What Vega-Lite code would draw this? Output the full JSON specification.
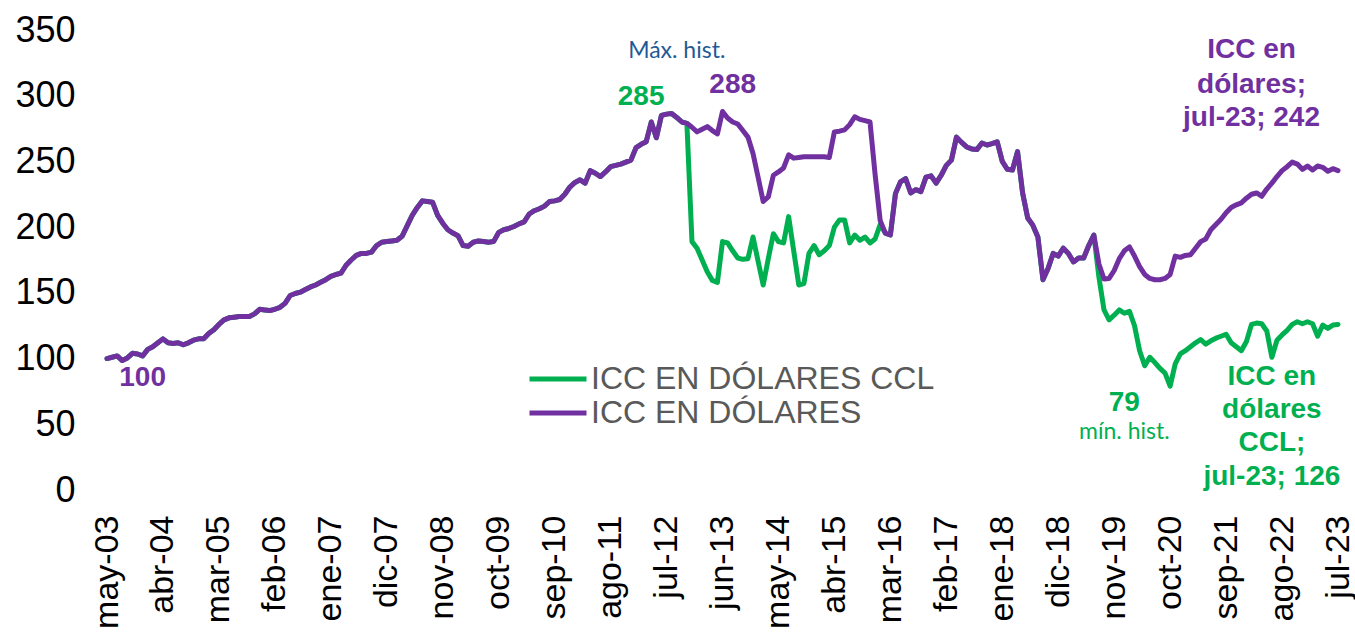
{
"$schema":"https://vega.github.io/schema/vega-lite/v6.json",
"width":1231,"height":460,
"autosize":{"type":"none"},
"padding":{"left":107,"top":30,"right":17,"bottom":143},
"background":"white",
"config":{"view":{"stroke":null},"font":"Liberation Sans"},
"datasets":{"icc":[
{"f":"2003-05","icc":100,"ccl":100},{"f":"2003-06","icc":101,"ccl":101},{"f":"2003-07","icc":102,"ccl":102},{"f":"2003-08","icc":98.5,"ccl":98.5},{"f":"2003-09","icc":100.5,"ccl":100.5},{"f":"2003-10","icc":104,"ccl":104},{"f":"2003-11","icc":103.5,"ccl":103.5},{"f":"2003-12","icc":102,"ccl":102},
{"f":"2004-01","icc":107,"ccl":107},{"f":"2004-02","icc":109,"ccl":109},{"f":"2004-03","icc":112,"ccl":112},{"f":"2004-04","icc":115,"ccl":115},{"f":"2004-05","icc":112,"ccl":112},{"f":"2004-06","icc":111.5,"ccl":111.5},{"f":"2004-07","icc":112,"ccl":112},{"f":"2004-08","icc":110.5,"ccl":110.5},{"f":"2004-09","icc":112,"ccl":112},{"f":"2004-10","icc":114,"ccl":114},{"f":"2004-11","icc":115,"ccl":115},{"f":"2004-12","icc":115,"ccl":115},
{"f":"2005-01","icc":119,"ccl":119},{"f":"2005-02","icc":122,"ccl":122},{"f":"2005-03","icc":126,"ccl":126},{"f":"2005-04","icc":129.5,"ccl":129.5},{"f":"2005-05","icc":131,"ccl":131},{"f":"2005-06","icc":131.5,"ccl":131.5},{"f":"2005-07","icc":132,"ccl":132},{"f":"2005-08","icc":132,"ccl":132},{"f":"2005-09","icc":132,"ccl":132},{"f":"2005-10","icc":134,"ccl":134},{"f":"2005-11","icc":137.5,"ccl":137.5},{"f":"2005-12","icc":137,"ccl":137},
{"f":"2006-01","icc":136.5,"ccl":136.5},{"f":"2006-02","icc":137.5,"ccl":137.5},{"f":"2006-03","icc":139,"ccl":139},{"f":"2006-04","icc":142,"ccl":142},{"f":"2006-05","icc":148,"ccl":148},{"f":"2006-06","icc":149.5,"ccl":149.5},{"f":"2006-07","icc":150.5,"ccl":150.5},{"f":"2006-08","icc":152.5,"ccl":152.5},{"f":"2006-09","icc":154.5,"ccl":154.5},{"f":"2006-10","icc":156,"ccl":156},{"f":"2006-11","icc":158,"ccl":158},{"f":"2006-12","icc":160,"ccl":160},
{"f":"2007-01","icc":162.5,"ccl":162.5},{"f":"2007-02","icc":164,"ccl":164},{"f":"2007-03","icc":165,"ccl":165},{"f":"2007-04","icc":171,"ccl":171},{"f":"2007-05","icc":175,"ccl":175},{"f":"2007-06","icc":178.5,"ccl":178.5},{"f":"2007-07","icc":180,"ccl":180},{"f":"2007-08","icc":180,"ccl":180},{"f":"2007-09","icc":181,"ccl":181},{"f":"2007-10","icc":186,"ccl":186},{"f":"2007-11","icc":188.5,"ccl":188.5},{"f":"2007-12","icc":189,"ccl":189},
{"f":"2008-01","icc":189.5,"ccl":189.5},{"f":"2008-02","icc":190,"ccl":190},{"f":"2008-03","icc":193,"ccl":193},{"f":"2008-04","icc":201,"ccl":201},{"f":"2008-05","icc":209,"ccl":209},{"f":"2008-06","icc":215,"ccl":215},{"f":"2008-07","icc":220,"ccl":220},{"f":"2008-08","icc":219.5,"ccl":219.5},{"f":"2008-09","icc":219,"ccl":219},{"f":"2008-10","icc":209,"ccl":209},{"f":"2008-11","icc":203,"ccl":203},{"f":"2008-12","icc":198,"ccl":198},
{"f":"2009-01","icc":195.5,"ccl":195.5},{"f":"2009-02","icc":193.5,"ccl":193.5},{"f":"2009-03","icc":186,"ccl":186},{"f":"2009-04","icc":185.5,"ccl":185.5},{"f":"2009-05","icc":188.5,"ccl":188.5},{"f":"2009-06","icc":189.5,"ccl":189.5},{"f":"2009-07","icc":189,"ccl":189},{"f":"2009-08","icc":188.5,"ccl":188.5},{"f":"2009-09","icc":189,"ccl":189},{"f":"2009-10","icc":196,"ccl":196},{"f":"2009-11","icc":198,"ccl":198},{"f":"2009-12","icc":199,"ccl":199},
{"f":"2010-01","icc":200.5,"ccl":200.5},{"f":"2010-02","icc":202.5,"ccl":202.5},{"f":"2010-03","icc":204,"ccl":204},{"f":"2010-04","icc":210,"ccl":210},{"f":"2010-05","icc":212.5,"ccl":212.5},{"f":"2010-06","icc":214,"ccl":214},{"f":"2010-07","icc":216,"ccl":216},{"f":"2010-08","icc":219.5,"ccl":219.5},{"f":"2010-09","icc":220,"ccl":220},{"f":"2010-10","icc":221,"ccl":221},{"f":"2010-11","icc":225,"ccl":225},{"f":"2010-12","icc":230.5,"ccl":230.5},
{"f":"2011-01","icc":234,"ccl":234},{"f":"2011-02","icc":236,"ccl":236},{"f":"2011-03","icc":233.5,"ccl":233.5},{"f":"2011-04","icc":243,"ccl":243},{"f":"2011-05","icc":241,"ccl":241},{"f":"2011-06","icc":238.5,"ccl":238.5},{"f":"2011-07","icc":242,"ccl":242},{"f":"2011-08","icc":246,"ccl":246},{"f":"2011-09","icc":247,"ccl":247},{"f":"2011-10","icc":248,"ccl":248},{"f":"2011-11","icc":249.5,"ccl":249.5},{"f":"2011-12","icc":251,"ccl":251},
{"f":"2012-01","icc":260.5,"ccl":260.5},{"f":"2012-02","icc":263,"ccl":263},{"f":"2012-03","icc":265,"ccl":265},{"f":"2012-04","icc":280,"ccl":280},{"f":"2012-05","icc":268,"ccl":268},{"f":"2012-06","icc":285,"ccl":285},{"f":"2012-07","icc":286,"ccl":286},{"f":"2012-08","icc":286.5,"ccl":286.5},{"f":"2012-09","icc":283.5,"ccl":283.5},{"f":"2012-10","icc":280,"ccl":280},{"f":"2012-11","icc":279,"ccl":279},{"f":"2012-12","icc":276,"ccl":189},
{"f":"2013-01","icc":272.5,"ccl":184},{"f":"2013-02","icc":274.5,"ccl":175},{"f":"2013-03","icc":276.5,"ccl":166},{"f":"2013-04","icc":273.5,"ccl":159.5},{"f":"2013-05","icc":271,"ccl":158},{"f":"2013-06","icc":288,"ccl":189},{"f":"2013-07","icc":283,"ccl":188},{"f":"2013-08","icc":280,"ccl":182},{"f":"2013-09","icc":278.5,"ccl":176.5},{"f":"2013-10","icc":273.5,"ccl":175.5},{"f":"2013-11","icc":268.5,"ccl":176},{"f":"2013-12","icc":256,"ccl":192.5},
{"f":"2014-01","icc":238,"ccl":174},{"f":"2014-02","icc":219.5,"ccl":156},{"f":"2014-03","icc":223,"ccl":176},{"f":"2014-04","icc":239.5,"ccl":195},{"f":"2014-05","icc":242,"ccl":189},{"f":"2014-06","icc":245,"ccl":188},{"f":"2014-07","icc":255,"ccl":208},{"f":"2014-08","icc":252.5,"ccl":182},{"f":"2014-09","icc":253,"ccl":156},{"f":"2014-10","icc":253.5,"ccl":157},{"f":"2014-11","icc":253.5,"ccl":180},{"f":"2014-12","icc":253.5,"ccl":186},
{"f":"2015-01","icc":253.5,"ccl":179},{"f":"2015-02","icc":253.5,"ccl":182},{"f":"2015-03","icc":253,"ccl":186},{"f":"2015-04","icc":272.5,"ccl":200},{"f":"2015-05","icc":273,"ccl":205.5},{"f":"2015-06","icc":274,"ccl":205.5},{"f":"2015-07","icc":278,"ccl":188},{"f":"2015-08","icc":284,"ccl":194},{"f":"2015-09","icc":282,"ccl":190},{"f":"2015-10","icc":281,"ccl":192.5},{"f":"2015-11","icc":280,"ccl":188},{"f":"2015-12","icc":240,"ccl":191},
{"f":"2016-01","icc":205,"ccl":202},{"f":"2016-02","icc":195.5,"ccl":195.5},{"f":"2016-03","icc":194,"ccl":194},{"f":"2016-04","icc":225.5,"ccl":225.5},{"f":"2016-05","icc":234.5,"ccl":234.5},{"f":"2016-06","icc":237,"ccl":237},{"f":"2016-07","icc":226,"ccl":226},{"f":"2016-08","icc":228.5,"ccl":228.5},{"f":"2016-09","icc":227,"ccl":227},{"f":"2016-10","icc":238,"ccl":238},{"f":"2016-11","icc":239,"ccl":239},{"f":"2016-12","icc":233.5,"ccl":233.5},
{"f":"2017-01","icc":239.5,"ccl":239.5},{"f":"2017-02","icc":247,"ccl":247},{"f":"2017-03","icc":251,"ccl":251},{"f":"2017-04","icc":268.5,"ccl":268.5},{"f":"2017-05","icc":264.5,"ccl":264.5},{"f":"2017-06","icc":261,"ccl":261},{"f":"2017-07","icc":259.5,"ccl":259.5},{"f":"2017-08","icc":259,"ccl":259},{"f":"2017-09","icc":264,"ccl":264},{"f":"2017-10","icc":262.5,"ccl":262.5},{"f":"2017-11","icc":263.5,"ccl":263.5},{"f":"2017-12","icc":265,"ccl":265},
{"f":"2018-01","icc":250,"ccl":250},{"f":"2018-02","icc":244,"ccl":244},{"f":"2018-03","icc":243.5,"ccl":243.5},{"f":"2018-04","icc":257.5,"ccl":257.5},{"f":"2018-05","icc":226,"ccl":226},{"f":"2018-06","icc":207,"ccl":207},{"f":"2018-07","icc":201.5,"ccl":201.5},{"f":"2018-08","icc":192.5,"ccl":192.5},{"f":"2018-09","icc":160,"ccl":160},{"f":"2018-10","icc":168.5,"ccl":168.5},{"f":"2018-11","icc":180,"ccl":180},{"f":"2018-12","icc":178,"ccl":178},
{"f":"2019-01","icc":184,"ccl":184},{"f":"2019-02","icc":180,"ccl":180},{"f":"2019-03","icc":173.5,"ccl":173.5},{"f":"2019-04","icc":176.5,"ccl":176.5},{"f":"2019-05","icc":176.5,"ccl":176.5},{"f":"2019-06","icc":186,"ccl":186},{"f":"2019-07","icc":194,"ccl":194},{"f":"2019-08","icc":172,"ccl":162},{"f":"2019-09","icc":160.5,"ccl":137},{"f":"2019-10","icc":161,"ccl":129.5},{"f":"2019-11","icc":167,"ccl":133},{"f":"2019-12","icc":176,"ccl":137},
{"f":"2020-01","icc":182,"ccl":134.5},{"f":"2020-02","icc":185,"ccl":136},{"f":"2020-03","icc":178,"ccl":125},{"f":"2020-04","icc":170,"ccl":106},{"f":"2020-05","icc":164,"ccl":94.5},{"f":"2020-06","icc":161,"ccl":101},{"f":"2020-07","icc":160,"ccl":97},{"f":"2020-08","icc":160,"ccl":92.5},{"f":"2020-09","icc":161,"ccl":89},{"f":"2020-10","icc":164,"ccl":79},{"f":"2020-11","icc":178,"ccl":96},{"f":"2020-12","icc":177,"ccl":103.5},
{"f":"2021-01","icc":178.5,"ccl":106},{"f":"2021-02","icc":179,"ccl":109},{"f":"2021-03","icc":184,"ccl":112},{"f":"2021-04","icc":189,"ccl":114.5},{"f":"2021-05","icc":191,"ccl":111},{"f":"2021-06","icc":198,"ccl":113.5},{"f":"2021-07","icc":202,"ccl":115.5},{"f":"2021-08","icc":206,"ccl":117},{"f":"2021-09","icc":211,"ccl":118.5},{"f":"2021-10","icc":215,"ccl":112},{"f":"2021-11","icc":217,"ccl":109},{"f":"2021-12","icc":218.5,"ccl":106},
{"f":"2022-01","icc":222,"ccl":113},{"f":"2022-02","icc":225,"ccl":126},{"f":"2022-03","icc":226,"ccl":127},{"f":"2022-04","icc":223.5,"ccl":126.5},{"f":"2022-05","icc":229,"ccl":121},{"f":"2022-06","icc":233.5,"ccl":101},{"f":"2022-07","icc":238.5,"ccl":114},{"f":"2022-08","icc":243,"ccl":118},{"f":"2022-09","icc":246,"ccl":121.5},{"f":"2022-10","icc":249.5,"ccl":126},{"f":"2022-11","icc":248,"ccl":128},{"f":"2022-12","icc":244,"ccl":126.5},
{"f":"2023-01","icc":246.5,"ccl":128},{"f":"2023-02","icc":243.5,"ccl":126.5},{"f":"2023-03","icc":246.5,"ccl":117},{"f":"2023-04","icc":245.5,"ccl":125.5},{"f":"2023-05","icc":242.5,"ccl":123},{"f":"2023-06","icc":244.5,"ccl":125.5},{"f":"2023-07","icc":243,"ccl":126}
]},
"encoding":{
"x":{"field":"f","type":"ordinal","scale":{"type":"point","padding":0},
"axis":{"title":null,"domain":false,"ticks":false,"labelAngle":270,"labelAlign":"right","labelBaseline":"middle","labelFontSize":34,"labelColor":"#000000","labelPadding":25,"labelOverlap":false,"labelFont":"Liberation Sans",
"values":["2003-05","2004-04","2005-03","2006-02","2007-01","2007-12","2008-11","2009-10","2010-09","2011-08","2012-07","2013-06","2014-05","2015-04","2016-03","2017-02","2018-01","2018-12","2019-11","2020-10","2021-09","2022-08","2023-07"],
"labelExpr":"['ene','feb','mar','abr','may','jun','jul','ago','sep','oct','nov','dic'][toNumber(substring(datum.value,5,7))-1] + '-' + substring(datum.value,2,4)"}}
},
"layer":[
{"data":{"name":"icc"},"mark":{"type":"line","strokeWidth":5,"strokeJoin":"round","strokeCap":"round"},
"encoding":{"y":{"field":"ccl","type":"quantitative","scale":{"domain":[0,350],"nice":false},
"axis":{"title":null,"grid":false,"domain":false,"ticks":false,"values":[0,50,100,150,200,250,300,350],"labelFontSize":36,"labelColor":"#000000","labelPadding":32,"labelFont":"Liberation Sans"}},
"color":{"datum":"ICC EN DÓLARES CCL","scale":{"domain":["ICC EN DÓLARES CCL","ICC EN DÓLARES"],"range":["#00B050","#7030A0"]},
"legend":{"title":null,"orient":"none","legendX":420,"legendY":332,"symbolType":"stroke","symbolStrokeWidth":5,"symbolSize":3249,"labelFontSize":32,"labelColor":"#595959","labelOffset":2,"labelLimit":800,"rowPadding":0,"clipHeight":34,"labelFont":"Liberation Sans"}}}},
{"data":{"name":"icc"},"mark":{"type":"line","strokeWidth":5,"strokeJoin":"round","strokeCap":"round"},
"encoding":{"y":{"field":"icc","type":"quantitative"},"color":{"datum":"ICC EN DÓLARES"}}},
{"data":{"values":[{"f":"2012-09","v":334,"t":"Máx. hist."}]},"mark":{"type":"text","font":"Lato","fontSize":23,"color":"#1F5A96","align":"center","baseline":"middle"},
"encoding":{"y":{"field":"v","type":"quantitative"},"text":{"field":"t"}}},
{"data":{"values":[{"f":"2020-01","v":44,"t":"mín. hist."}]},"mark":{"type":"text","font":"Lato","fontSize":23,"color":"#00B050","align":"center","baseline":"middle"},
"encoding":{"y":{"field":"v","type":"quantitative"},"text":{"field":"t"}}},
{"data":{"values":[{"f":"2012-02","v":299,"t":"285"},{"f":"2020-01","v":66,"t":"79"},{"f":"2022-06","v":86,"t":"ICC en"},{"f":"2022-06","v":61,"t":"dólares"},{"f":"2022-06","v":36,"t":"CCL;"},{"f":"2022-06","v":10,"t":"jul-23; 126"}]},
"mark":{"type":"text","font":"Liberation Sans","fontWeight":"bold","fontSize":28,"color":"#00B050","align":"center","baseline":"middle"},
"encoding":{"y":{"field":"v","type":"quantitative"},"text":{"field":"t"}}},
{"data":{"values":[{"f":"2013-08","v":308,"t":"288"},{"f":"2003-12","v":85,"t":"100"},{"f":"2022-02","v":335,"t":"ICC en"},{"f":"2022-02","v":308,"t":"dólares;"},{"f":"2022-02","v":283,"t":"jul-23; 242"}]},
"mark":{"type":"text","font":"Liberation Sans","fontWeight":"bold","fontSize":28,"color":"#7030A0","align":"center","baseline":"middle"},
"encoding":{"y":{"field":"v","type":"quantitative"},"text":{"field":"t"}}}
]
}
